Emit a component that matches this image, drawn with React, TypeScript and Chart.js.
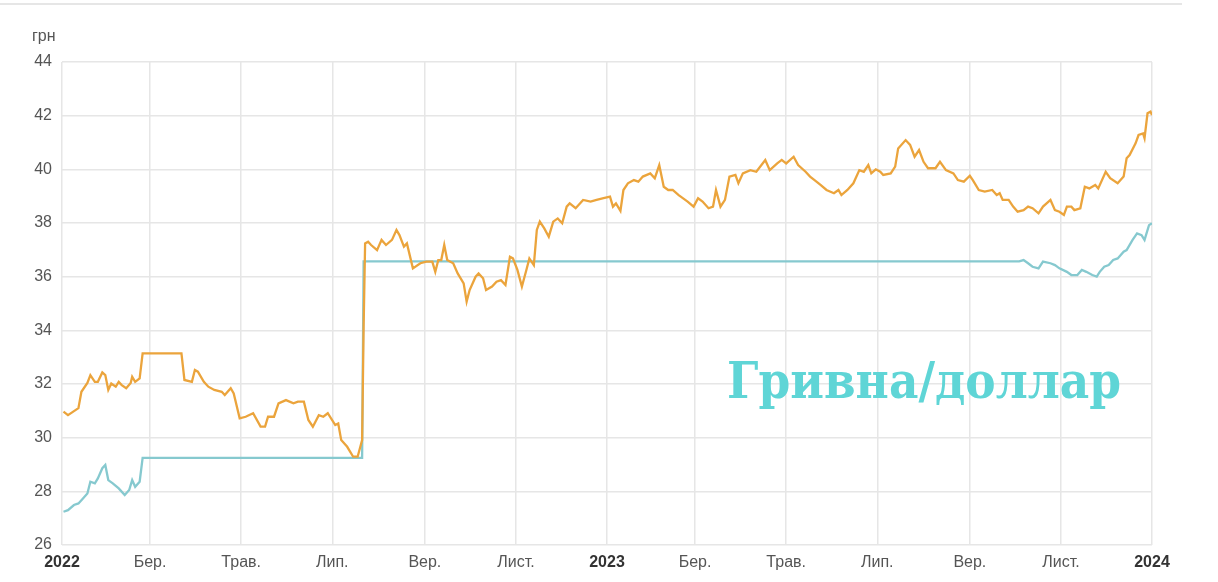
import React, { useEffect, useRef } from 'react';
import { Chart, registerables } from 'chart.js';

Chart.register(...registerables);

// Days since 2022-01-01
const tickDays = [0, 59, 120, 181, 243, 304, 365, 424, 485, 546, 608, 669, 730];
const tickLabels = ['2022', 'Бер.', 'Трав.', 'Лип.', 'Вер.', 'Лист.', '2023', 'Бер.', 'Трав.', 'Лип.', 'Вер.', 'Лист.', '2024'];

const marketDays = [
  1, 4, 11, 13, 17, 19, 22, 24, 27, 29, 31, 33, 36, 38, 40, 43, 46, 47, 49, 52, 54,
  80, 82, 87, 89, 91, 95, 98, 102, 107, 109, 113, 115, 119, 123, 128, 133, 136, 138, 142,
  145, 150, 155, 158, 162, 165, 168, 172, 175, 178, 183, 185, 187, 191, 195, 198, 201,
  202, 203, 205, 207, 211, 214, 217, 221, 224, 226, 229, 231, 235, 240, 244, 248, 250,
  252, 254, 256, 258, 262, 265, 269, 271, 273, 277, 279, 282, 284, 288, 291, 294, 297,
  300, 302, 305, 308, 311, 313, 316, 318, 320, 323, 326, 329, 332, 335, 338, 340, 344,
  349, 354, 358, 362, 367, 369, 371, 374, 376, 379, 383, 386, 389, 394, 397, 400, 403,
  406, 409, 413, 416, 419, 423, 426, 429, 433, 436, 438, 441, 444, 447, 451, 453, 456,
  461, 465, 471, 474, 479, 482, 485, 490, 493, 498, 501, 504, 508, 512, 517, 520, 522,
  526, 530, 534, 537, 540, 542, 545, 548, 550, 555, 558, 560, 565, 568, 571, 574, 577,
  580, 585, 588, 592, 597, 600, 604, 608, 610, 614, 618, 623, 626, 628, 630, 634, 637,
  640, 644, 647, 650, 654, 657, 662, 665, 668, 671, 673, 676, 678, 682, 685, 688, 692,
  694, 699, 702, 707, 711, 713, 715, 719, 721, 724, 725, 727, 729, 730,
];
const marketRates = [
  30.97, 30.84, 31.1, 31.71, 32.04, 32.33, 32.08, 32.08, 32.43, 32.33, 31.78, 32.02, 31.9, 32.08, 31.96, 31.84, 32.04, 32.27, 32.08, 32.21, 33.14,
  33.14, 32.15, 32.08, 32.52, 32.46, 32.08, 31.9, 31.78, 31.71, 31.59, 31.84, 31.65, 30.72, 30.78, 30.91, 30.41, 30.41, 30.78, 30.78,
  31.28, 31.4, 31.28, 31.34, 31.34, 30.66, 30.41, 30.84, 30.78, 30.91, 30.47, 30.53, 29.91, 29.66, 29.29, 29.29, 29.91,
  34.13, 37.24, 37.3, 37.18, 36.99, 37.37, 37.18, 37.37, 37.74, 37.55, 37.12, 37.24, 36.31, 36.5, 36.56, 36.56, 36.18,
  36.62, 36.62, 37.18, 36.62, 36.5, 36.12, 35.75, 35.07, 35.5, 36.0, 36.12, 35.94, 35.5, 35.63, 35.81, 35.87, 35.69,
  36.74, 36.68, 36.25, 35.63, 36.25, 36.68, 36.43, 37.74, 38.05, 37.8, 37.49, 38.05, 38.17, 37.99, 38.61, 38.73, 38.55,
  38.86, 38.8, 38.86, 38.92, 38.98, 38.61, 38.73, 38.45, 39.23, 39.48, 39.6, 39.54, 39.73, 39.85, 39.67, 40.16, 39.35,
  39.23, 39.23, 39.04, 38.92, 38.8, 38.61, 38.92, 38.8, 38.55, 38.61, 39.23, 38.61, 38.86, 39.73, 39.79, 39.48, 39.85,
  39.97, 39.91, 40.35, 39.97, 40.22, 40.35, 40.22, 40.47, 40.16, 39.91, 39.73, 39.6, 39.42, 39.23, 39.11, 39.23, 39.04,
  39.23, 39.48, 39.97, 39.91, 40.16, 39.85, 40.0, 39.91, 39.79, 39.85, 40.1, 40.78, 41.09, 40.91, 40.47, 40.72, 40.28,
  40.04, 40.04, 40.28, 39.97, 39.85, 39.6, 39.54, 39.76, 39.6, 39.23, 39.17, 39.23, 39.04, 39.11, 38.86, 38.86, 38.61,
  38.42, 38.48, 38.61, 38.55, 38.36, 38.61, 38.86, 38.48, 38.42, 38.3, 38.61, 38.61, 38.48, 38.55, 39.35, 39.29, 39.42,
  39.29, 39.91, 39.67, 39.48, 39.73, 40.41, 40.53, 40.97, 41.28, 41.34, 41.16, 42.09, 42.15, 42.02,
];

const officialDays = [
  1, 4, 8, 11, 13, 17, 19, 22, 24, 27, 29, 31, 34, 38, 42, 45, 47, 49, 52, 54,
  201, 202, 641, 644, 647, 650, 654, 657, 662, 665, 668, 673, 676, 680, 683, 686, 690,
  693, 695, 698, 701, 704, 707, 711, 713, 717, 720, 723, 725, 728, 730,
];
const officialRates = [
  27.24, 27.3, 27.49, 27.55, 27.67, 27.92, 28.36, 28.3, 28.48, 28.86, 28.98, 28.42, 28.3, 28.11, 27.86, 28.05, 28.42, 28.17, 28.36, 29.25,
  29.25, 36.57, 36.57, 36.62, 36.5, 36.37, 36.31, 36.56, 36.5, 36.43, 36.31, 36.18, 36.06, 36.06, 36.25, 36.18, 36.06,
  36.0, 36.18, 36.37, 36.43, 36.62, 36.68, 36.93, 36.99, 37.37, 37.61, 37.55, 37.37, 37.92, 37.99,
];

const FONT = '"Liberation Sans", Arial, sans-serif';

export default function App() {
  const canvasRef = useRef<HTMLCanvasElement | null>(null);

  useEffect(() => {
    document.body.style.margin = '0';
    const canvas = canvasRef.current;
    if (!canvas) return;
    const chart = new Chart(canvas, {
      type: 'line',
      data: {
        datasets: [
          {
            label: 'Готівковий курс',
            data: marketDays.map((d, i) => ({ x: d, y: marketRates[i] })),
            borderColor: '#eba43c',
            borderWidth: 2.3,
            pointRadius: 0,
            tension: 0,
          },
          {
            label: 'Офіційний курс НБУ',
            data: officialDays.map((d, i) => ({ x: d, y: officialRates[i] })),
            borderColor: '#86c9cf',
            borderWidth: 2.3,
            pointRadius: 0,
            tension: 0,
          },
        ],
      },
      options: {
        responsive: false,
        animation: false,
        devicePixelRatio: 1,
        layout: { padding: { left: 0, right: 66, top: 62, bottom: 0 } },
        plugins: { legend: { display: false }, tooltip: { enabled: false } },
        scales: {
          x: {
            type: 'linear',
            min: 0,
            max: 730,
            afterBuildTicks: (s: any) => {
              s.ticks = tickDays.map((v) => ({ value: v }));
            },
            afterFit: (s: any) => {
              s.height = 37;
            },
            ticks: {
              autoSkip: false,
              maxRotation: 0,
              padding: 8,
              callback: (v: any) => tickLabels[tickDays.indexOf(Number(v))] ?? '',
              font: (ctx: any) => {
                const lab = ctx.tick ? tickLabels[tickDays.indexOf(ctx.tick.value)] : '';
                const year = /^\d{4}$/.test(lab || '');
                return { size: 16, family: FONT, weight: year ? 'bold' : 'normal' };
              },
              color: (ctx: any) => {
                const lab = ctx.tick ? tickLabels[tickDays.indexOf(ctx.tick.value)] : '';
                return /^\d{4}$/.test(lab || '') ? '#333' : '#555';
              },
            },
            grid: { color: '#e6e6e6', drawTicks: false, lineWidth: 1.5 },
            border: { display: false },
          },
          y: {
            min: 26,
            max: 44,
            afterFit: (s: any) => {
              s.width = 62;
            },
            ticks: {
              stepSize: 2,
              padding: 10,
              font: { size: 16, family: FONT },
              color: '#555',
            },
            grid: { color: '#e6e6e6', drawTicks: false, lineWidth: 1.5 },
            border: { display: false },
          },
        },
      },
    });
    return () => chart.destroy();
  }, []);

  return (
    <div style={{ position: 'absolute', left: 0, top: 0, width: 1218, height: 582, background: '#fff', overflow: 'hidden' }}>
      <div style={{ position: 'absolute', left: 0, top: 3, width: 1182, height: 2, background: '#e6e6e6' }} />
      <canvas ref={canvasRef} width={1218} height={582} style={{ position: 'absolute', left: 0, top: 0 }} />
      <div style={{ position: 'absolute', left: 32, top: 27, font: `16px ${FONT}`, color: '#555' }}>грн</div>
      <div
        style={{
          position: 'absolute',
          left: 727,
          top: 356,
          fontFamily: '"DejaVu Serif", serif',
          fontWeight: 'bold',
          fontSize: 50,
          lineHeight: '50px',
          color: '#5fd5d6',
          whiteSpace: 'nowrap',
          transformOrigin: 'left top',
          transform: 'scaleX(0.91)',
        }}
      >
        Гривна/доллар
      </div>
    </div>
  );
}
